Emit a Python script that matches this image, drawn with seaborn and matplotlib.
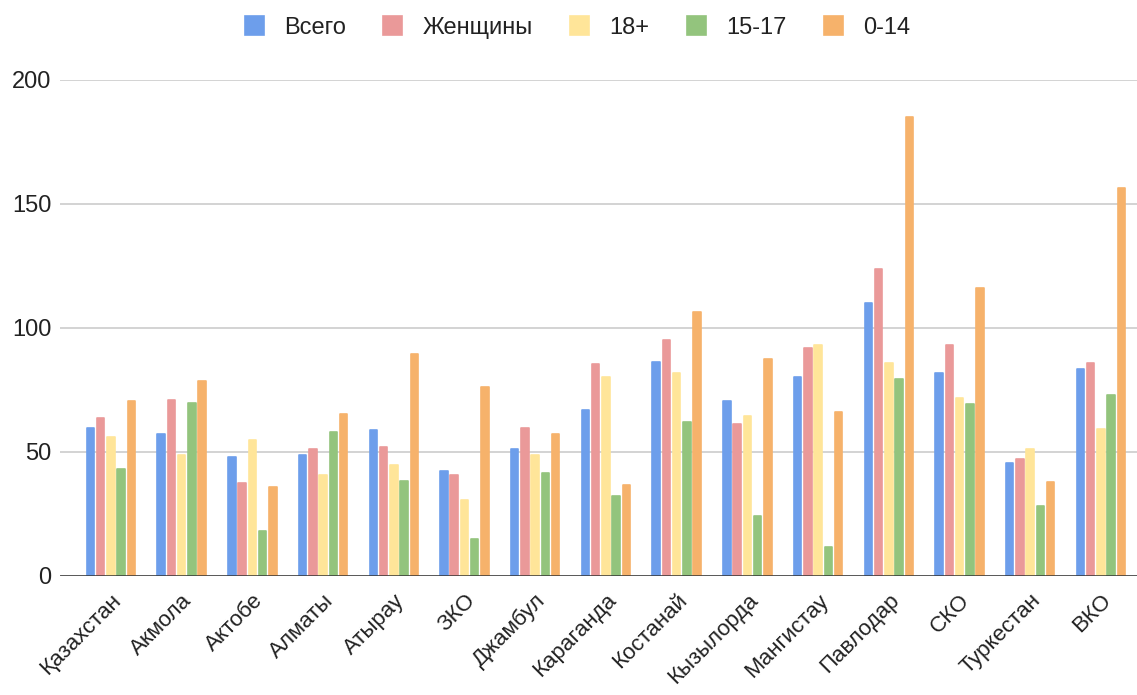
import matplotlib
matplotlib.use("Agg")
import matplotlib.pyplot as plt
import pandas as pd
import seaborn as sns

regions = ["Қазахстан", "Акмола", "Актобе", "Алматы", "Атырау", "ЗКО", "Джамбул",
           "Караганда", "Костанай", "Кызылорда", "Мангистау", "Павлодар", "СКО",
           "Туркестан", "ВКО"]
series = ["Всего", "Женщины", "18+", "15-17", "0-14"]

total = [59.5, 57.1, 48.1, 48.9, 58.8, 42.2, 51.4, 67.1, 86.1, 70.4, 80.3, 110.0, 81.8, 45.5, 83.4]
women = [63.7, 71.1, 37.4, 51.4, 52.1, 40.6, 59.5, 85.3, 95.1, 61.3, 91.9, 123.9, 93.2, 47.1, 86.0]
adults = [56.1, 48.9, 54.7, 40.6, 44.7, 30.6, 48.7, 80.2, 81.9, 64.4, 93.2, 85.8, 71.7, 51.1, 59.4]
teens = [43.2, 69.6, 18.3, 57.9, 38.2, 15.0, 41.4, 32.4, 61.9, 24.0, 11.6, 79.4, 69.5, 28.2, 72.8]
children = [70.4, 78.7, 35.8, 65.5, 89.5, 76.1, 57.1, 36.6, 106.5, 87.6, 66.0, 185.0, 116.3, 37.9, 156.3]

colors = ["#6d9eeb", "#ea9999", "#ffe599", "#93c47d", "#f6b26b"]
yticks = [0, 50, 100, 150, 200]

df = pd.DataFrame({
    "region": regions * 5,
    "series": sum([[s] * len(regions) for s in series], []),
    "value": total + women + adults + teens + children,
})

sns.set_style("white")
plt.rcParams["font.family"] = ["Liberation Sans", "DejaVu Sans"]

fig = plt.figure(figsize=(11.37, 6.95), dpi=100)
ax = fig.add_axes([60 / 1137, (695 - 576) / 695, (1137 - 60) / 1137, (576 - 80) / 695])

sns.barplot(data=df, x="region", y="value", hue="series", order=regions,
            hue_order=series, palette=colors, width=0.725, gap=0.27,
            saturation=1, ax=ax, legend=True)

# soften bar corners
for p in ax.patches:
    fc = p.get_facecolor()
    p.set_edgecolor(fc)
    p.set_linewidth(1.2)
    p.set_joinstyle("round")

ax.set_ylim(0, 200)
ax.set_xlim(-0.72, 14.51)
ax.set_yticks(yticks)
ax.set_yticklabels([str(v) for v in yticks], fontsize=17, color="#222222")
ax.yaxis.grid(True, color="#cccccc", linewidth=1.2)
ax.set_axisbelow(True)
ax.axhline(0, color="#333333", linewidth=1.8, zorder=5)
for s in ax.spines.values():
    s.set_visible(False)
ax.tick_params(axis="y", length=0, pad=6)
ax.tick_params(axis="x", length=0, pad=10)
ax.set_xlabel("")
ax.set_ylabel("")
plt.setp(ax.get_xticklabels(), rotation=45, ha="right", rotation_mode="anchor",
         fontsize=16, color="#222222")

handles, labels = ax.get_legend_handles_labels()
ax.get_legend().remove()
fig.legend(handles, labels, loc="center", bbox_to_anchor=(0.508, 0.961), ncol=5,
           frameon=False, fontsize=17, handlelength=0.8, handleheight=0.9,
           handletextpad=0.85, columnspacing=1.6, labelcolor="#222222")

fig.savefig("out.png", dpi=100)
